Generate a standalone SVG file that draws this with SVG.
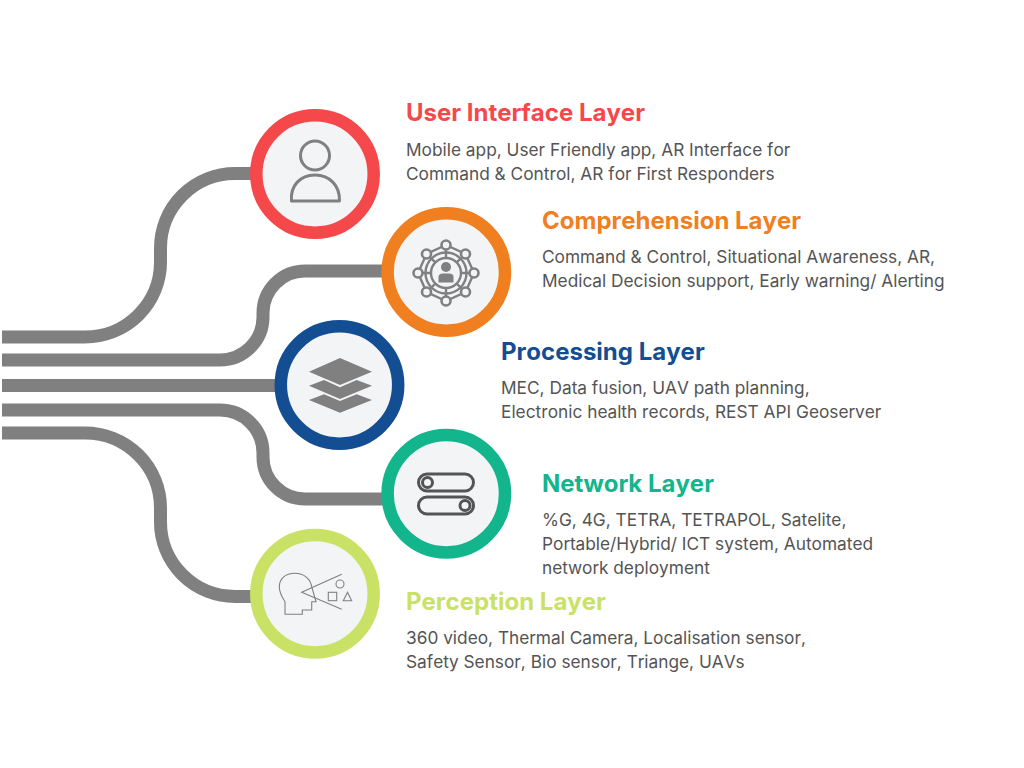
<svg xmlns="http://www.w3.org/2000/svg" width="1024" height="768" viewBox="0 0 1024 768">
<style>
.c{fill:none;stroke:#808080;stroke-width:13}
.n{fill:#f3f4f6;stroke-width:12.5}
.h{font-family:Inter,"Liberation Sans",sans-serif;font-size:24px;font-weight:700;font-kerning:none}
.b{font-family:Inter,"Liberation Sans",sans-serif;font-size:17.3px;fill:#545454;font-kerning:none}
.i{fill:none;stroke:#808080;stroke-width:3}
.t{fill:none;stroke:#808080;stroke-width:2.4}
.f{fill:#808080;stroke:none}
</style>
<rect width="1024" height="768" fill="#fff"/>
<g id="connectors">
<path class="c" d="M2 337H85A75.500 75 0 0 0 160.500 262V248A74.500 74.500 0 0 1 235 173.500H252"/>
<path class="c" d="M2 360H220A43 43 0 0 0 263 317V313A42 42 0 0 1 305 271H384"/>
<path class="c" d="M2 385.500H277"/>
<path class="c" d="M2 410H220A43 43 0 0 1 263 453V457A42 42 0 0 0 305 499H384"/>
<path class="c" d="M2 433H85A75.500 75 0 0 1 160.500 508V522A74.500 74.500 0 0 0 235 596.500H252"/>
</g>
<g id="user-interface">
<circle class="n" cx="315" cy="174" r="58.700" stroke="#f5484a"/>
<circle class="i" cx="315" cy="155.500" r="14.500"/>
<path class="i" d="M291.500 201H339.500C340 186 330 175 315 175S290 186 291.500 201Z" stroke-linejoin="round"/>
<text class="h" x="406" y="121" fill="#f5484a">User Interface Layer</text>
<text class="b" x="406" y="156">Mobile app, User Friendly app, AR Interface for</text>
<text class="b" x="406" y="180">Command &amp; Control, AR for First Responders</text>
</g>
<g id="comprehension">
<circle class="n" cx="446.300" cy="272" r="58.700" stroke="#f07f1f"/>
<g class="t">
<circle cx="446" cy="273" r="15"/>
<circle cx="446" cy="273" r="20.500"/>
<path d="M446 245V258M446 288V301M418 273H431M461 273H474M426.500 254L435.400 262.400M456.600 283.600L465.500 292M426.500 292L435.400 283.600M456.600 262.400L465.500 254"/>
<path d="M446 245L465.500 254L474 273L465.500 292L446 301L426.500 292L418 273L426.500 254Z"/>
</g>
<g fill="#f3f4f6" stroke="#808080" stroke-width="2.600">
<circle cx="446" cy="245" r="4.500"/><circle cx="446" cy="301" r="4.500"/><circle cx="418" cy="273" r="4.500"/><circle cx="474" cy="273" r="4.500"/>
<circle cx="426.500" cy="254" r="4.500"/><circle cx="465.500" cy="254" r="4.500"/><circle cx="426.500" cy="292" r="4.500"/><circle cx="465.500" cy="292" r="4.500"/>
</g>
<circle class="f" cx="446" cy="267" r="5"/>
<path class="f" d="M438.500 282.500V277Q438.500 273.500 443 273.500H449Q453.500 273.500 453.500 277V282.500Z"/>
<text class="h" x="542" y="229" fill="#f07f1f">Comprehension Layer</text>
<text class="b" x="542" y="263">Command &amp; Control, Situational Awareness, AR,</text>
<text class="b" x="542" y="287">Medical Decision support, Early warning/ Alerting</text>
</g>
<g id="processing">
<circle class="n" cx="339.500" cy="385" r="58.700" stroke="#134e93"/>
<path class="f" d="M340 358L372 371.700L340 385L309 371.700Z"/>
<path class="f" d="M324 380L340 387.300L356.700 380L372 385.700L340 399L309 385.700Z"/>
<path class="f" d="M324 394.300L340 401L356.700 394.300L372 400L340 412.700L309 400Z"/>
<text class="h" x="501" y="360" fill="#134e93">Processing Layer</text>
<text class="b" x="501" y="394">MEC, Data fusion, UAV path planning,</text>
<text class="b" x="501" y="418">Electronic health records, REST API Geoserver</text>
</g>
<g id="network">
<circle class="n" cx="446.300" cy="493.700" r="58.700" stroke="#13b58c"/>
<g fill="none" stroke="#545454" stroke-width="3">
<rect x="418.500" y="474" width="55" height="17" rx="8.500"/>
<rect x="418.500" y="497" width="55" height="17" rx="8.500"/>
<circle cx="427.500" cy="482.500" r="5"/>
<circle cx="465" cy="505.500" r="5"/>
</g>
<text class="h" x="542" y="492" fill="#13b58c">Network Layer</text>
<text class="b" x="542" y="526">%G, 4G, TETRA, TETRAPOL, Satelite,</text>
<text class="b" x="542" y="550">Portable/Hybrid/ ICT system, Automated</text>
<text class="b" x="542" y="574">network deployment</text>
</g>
<g id="perception">
<circle class="n" cx="315" cy="593.700" r="58.700" stroke="#c9e265"/>
<g fill="none" stroke="#808080" stroke-width="1.100">
<path d="M285 614.300V601.700C282 597 279.300 593 279.300 587C279.300 579 285 573.300 295 573.300C304 573.300 310.500 579 311.700 586.700L316 601.700H311.700V610H302.300V614.300Z"/>
<path d="M341.700 574.300L301.700 592.300L341.700 609.300"/>
<circle cx="340" cy="584" r="4"/>
<rect x="328.300" y="592.300" width="8.400" height="8.400"/>
<path d="M347.500 592.300L351.700 600.700H343.300Z"/>
</g>
<text class="h" x="406" y="610" fill="#c9e265">Perception Layer</text>
<text class="b" x="406" y="644">360 video, Thermal Camera, Localisation sensor,</text>
<text class="b" x="406" y="668">Safety Sensor, Bio sensor, Triange, UAVs</text>
</g>
</svg>
